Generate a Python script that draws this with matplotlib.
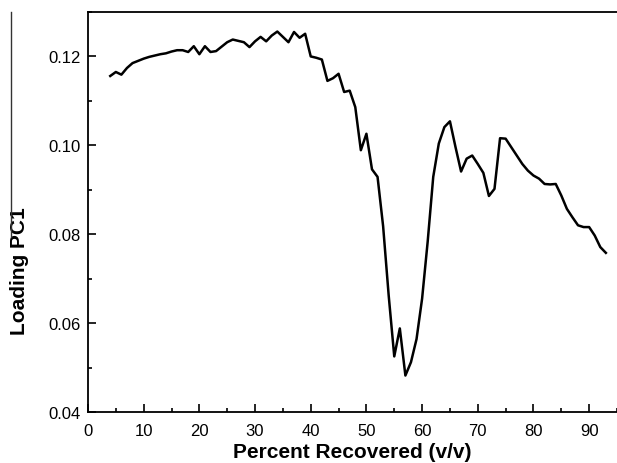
import matplotlib
matplotlib.use("Agg")
import matplotlib.pyplot as plt
from matplotlib.lines import Line2D
from matplotlib.ticker import MultipleLocator

plt.rcParams['font.family'] = ['Liberation Sans', 'DejaVu Sans']

# percent recovered (v/v), one point per percent
recovered = list(range(4, 94))
loading_pc1 = [
    0.1156, 0.1165, 0.1159, 0.1174, 0.1185, 0.1190, 0.1195, 0.1199, 0.1202, 0.1205,   # 4-13
    0.1207, 0.1211, 0.1214, 0.1214, 0.1210, 0.1223, 0.1205, 0.1223, 0.1210, 0.1212,   # 14-23
    0.1222, 0.1232, 0.1238, 0.1235, 0.1232, 0.1221, 0.1234, 0.1244, 0.1234, 0.1247,   # 24-33
    0.1256, 0.1244, 0.1232, 0.1255, 0.1242, 0.1251, 0.1200, 0.1197, 0.1193, 0.1145,   # 34-43
    0.1151, 0.1161, 0.1120, 0.1123, 0.1086, 0.0989, 0.1026, 0.0946, 0.0929, 0.0818,   # 44-53
    0.0662, 0.0525, 0.0588, 0.0482, 0.0512, 0.0564, 0.0655, 0.0783, 0.0929, 0.1004,   # 54-63
    0.1041, 0.1054, 0.0996, 0.0941, 0.0970, 0.0977, 0.0958, 0.0938, 0.0886, 0.0902,   # 64-73
    0.1016, 0.1015, 0.0996, 0.0977, 0.0958, 0.0943, 0.0932, 0.0925, 0.0913, 0.0912,   # 74-83
    0.0913, 0.0887, 0.0857, 0.0838, 0.0820, 0.0816, 0.0816, 0.0797, 0.0771, 0.0758,   # 84-93
]

fig = plt.figure(figsize=(6.17, 4.64), dpi=100)
ax = fig.add_axes([0.1426, 0.110, 0.8574, 0.862])

ax.plot(recovered, loading_pc1, color='black', lw=1.8)

ax.set_xlim(0, 95)
ax.set_ylim(0.04, 0.13)
ax.xaxis.set_major_locator(MultipleLocator(10))
ax.xaxis.set_minor_locator(MultipleLocator(5))
ax.yaxis.set_major_locator(MultipleLocator(0.02))
ax.yaxis.set_minor_locator(MultipleLocator(0.01))
ax.yaxis.set_major_formatter(matplotlib.ticker.FormatStrFormatter('%.2f'))

ax.spines['right'].set_visible(False)
for s in ['left', 'bottom', 'top']:
    ax.spines[s].set_linewidth(1.3)
ax.tick_params(which='both', direction='in', top=False, right=False,
               width=1.2, labelsize=12, pad=5)
ax.tick_params(axis='x', which='major', pad=8)
ax.tick_params(which='major', length=6)
ax.tick_params(which='minor', length=3)

ax.set_xlabel('Percent Recovered (v/v)', fontsize=15, fontweight='bold', labelpad=3)
ax.set_ylabel('Loading PC1', fontsize=15, fontweight='bold')
ax.yaxis.set_label_coords(-0.112, 0.355)

# thin rule at the far left edge
fig.add_artist(Line2D([11 / 617, 11 / 617], [1 - 13 / 464, 1 - 238 / 464],
                      transform=fig.transFigure, color='#333333', lw=1.0))

fig.savefig('out.png', dpi=100)
